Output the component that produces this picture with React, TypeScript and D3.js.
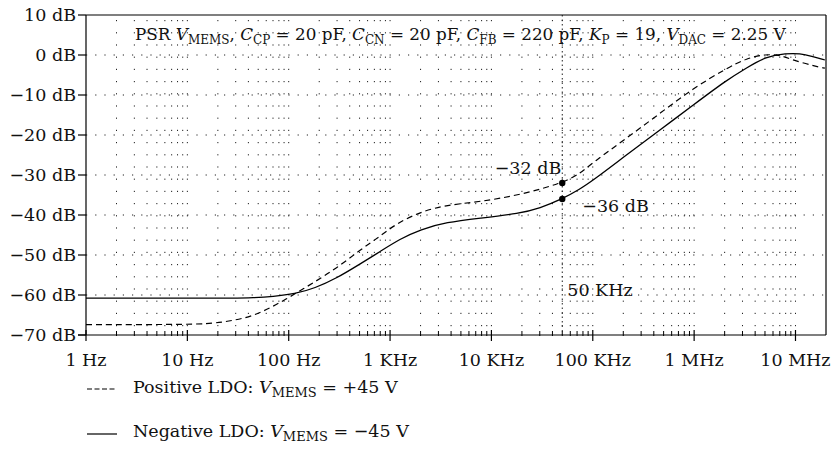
import React from "react";
import * as d3 from "d3";

// Negative LDO (solid)
const negFreq = [1, 10, 30, 44, 70, 115, 181, 297, 505, 790, 1250, 2000, 3600, 7700, 19000, 30000, 50000, 74000, 100000, 215000, 460000, 980000, 2.1e6, 3.3e6, 5.1e6, 8.1e6, 11e6, 14.9e6, 19.5e6];
const negDb = [-60.8, -60.8, -60.8, -60.7, -60.4, -59.75, -58.3, -55.8, -52.25, -49.2, -46.0, -43.6, -41.8, -40.8, -39.6, -38.3, -36, -33.6, -31.4, -25, -18.75, -12.5, -6.25, -3.2, -0.4, 0.4, 0.4, -0.4, -1.25];

// Positive LDO (dashed)
const posFreq = [1, 10, 18, 28, 44, 70, 115, 181, 297, 505, 790, 1160, 2000, 3600, 7700, 19000, 50000, 74000, 100000, 215000, 460000, 980000, 2.1e6, 3.3e6, 5.1e6, 7.0e6, 9.4e6, 14.9e6, 19.5e6];
const posDb = [-67.4, -67.4, -67.1, -66.4, -65.3, -62.9, -59.75, -56.7, -53.3, -48.75, -45.4, -42.1, -39.2, -37.5, -36.7, -35, -32, -29.75, -26.9, -20.8, -14.6, -8.3, -3.3, -0.8, 0.2, 0, -1.25, -2.7, -3.3];

const freqTicks = [1, 10, 100, 1e3, 1e4, 1e5, 1e6, 1e7];
const freqLabels = ["1 Hz", "10 Hz", "100 Hz", "1 KHz", "10 KHz", "100 KHz", "1 MHz", "10 MHz"];
const dbTicks = [10, 0, -10, -20, -30, -40, -50, -60, -70];

const markFreq = 50000;
const markDb = [-32, -36];

const FONT = "DejaVu Serif";
const FS = 17.5;

export default function App() {
  const x = d3.scaleLog().domain([1, 2e7]).range([86, 826]);
  const y = d3.scaleLinear().domain([-70, 10]).range([335, 15]);
  const x0 = 86, x1 = 826, y0 = 335, y1 = 15;

  const minor: number[] = [];
  for (let d = 0; d <= 7; d++) {
    for (let m = 2; m <= 9; m++) {
      const f = m * Math.pow(10, d);
      if (f < 2e7) minor.push(f);
    }
  }

  const line = d3
    .line<[number, number]>()
    .x((d) => x(d[0]))
    .y((d) => y(d[1]))
    .curve(d3.curveBasis);

  const negPath = line(negFreq.map((f, i) => [f, negDb[i]]))!;
  const posPath = line(posFreq.map((f, i) => [f, posDb[i]]))!;

  const fmt = (v: number) => `${v < 0 ? "\u2212" + Math.abs(v) : v} dB`;
  const sub = (s: string, fs = 12) => (
    <tspan fontSize={fs} dy={4}>{s}</tspan>
  );

  return (
    <svg width={832} height={449} fontFamily={FONT} style={{ position: "absolute", left: 0, top: 0, background: "#fff" }}>
      {/* grid */}
      <g stroke="#222" strokeWidth={1} fill="none">
        {[...minor, ...freqTicks.slice(1)].map((f) => (
          <line key={"v" + f} x1={x(f)} x2={x(f)} y1={y1 + 5} y2={y0} strokeDasharray="1.2,11" />
        ))}
        {dbTicks.slice(1, -1).map((v) => (
          <line key={"h" + v} x1={x0} x2={x1} y1={y(v)} y2={y(v)} strokeDasharray="1.2,8" />
        ))}
        <line x1={x(markFreq)} x2={x(markFreq)} y1={y1} y2={y0} strokeDasharray="1.5,3" />
      </g>

      {/* frame */}
      <g stroke="#000" strokeWidth={1.2} fill="none">
        <line x1={x0} x2={x1} y1={y1} y2={y1} />
        <line x1={x1} x2={x1} y1={y1} y2={y0} />
        <line x1={x0} x2={x0} y1={y1} y2={y0} />
        <line x1={x0 - 8} x2={x1} y1={y0} y2={y0} />
      </g>

      {/* y ticks */}
      {dbTicks.map((v) => (
        <g key={"yt" + v}>
          <line x1={x0 - 8} x2={x0} y1={y(v)} y2={y(v)} stroke="#000" strokeWidth={1.2} />
          <text x={x0 - 10} y={y(v)} dy="0.35em" textAnchor="end" fontSize={FS} fill="#111">
            {fmt(v)}
          </text>
        </g>
      ))}

      {/* x ticks */}
      {minor.map((f) => (
        <line key={"mt" + f} x1={x(f)} x2={x(f)} y1={y0 - 4} y2={y0 + 1} stroke="#000" strokeWidth={1} />
      ))}
      {freqTicks.map((f, i) => (
        <g key={"xt" + f}>
          <line x1={x(f)} x2={x(f)} y1={y0 - 5} y2={y0 + 6} stroke="#000" strokeWidth={1.2} />
          <text x={x(f)} y={366} textAnchor="middle" fontSize={FS} fill="#111">
            {freqLabels[i]}
          </text>
        </g>
      ))}

      {/* curves */}
      <path d={posPath} fill="none" stroke="#000" strokeWidth={1.2} strokeDasharray="6,4" />
      <path d={negPath} fill="none" stroke="#000" strokeWidth={1.3} />

      {/* markers */}
      {markDb.map((v) => (
        <circle key={"m" + v} cx={x(markFreq)} cy={y(v)} r={3.2} fill="#000" />
      ))}
      <text x={x(markFreq) - 1} y={y(-32) - 9} textAnchor="end" fontSize={FS} fill="#111">{fmt(-32)}</text>
      <text x={x(markFreq) + 20} y={y(-36) + 13} fontSize={FS} fill="#111">{fmt(-36)}</text>
      <text x={x(markFreq) + 5} y={296} fontSize={FS} fill="#111">50 KHz</text>

      {/* title */}
      <text x={135} y={40} fontSize={16.8} fill="#111">
        PSR <tspan fontStyle="italic">V</tspan>{sub("MEMS")}<tspan dy={-4}>, </tspan>
        <tspan fontStyle="italic">C</tspan>{sub("CP")}<tspan dy={-4}> = 20 pF, </tspan>
        <tspan fontStyle="italic">C</tspan>{sub("CN")}<tspan dy={-4}> = 20 pF, </tspan>
        <tspan fontStyle="italic">C</tspan>{sub("FB")}<tspan dy={-4}> = 220 pF, </tspan>
        <tspan fontStyle="italic">K</tspan>{sub("P")}<tspan dy={-4}> = 19, </tspan>
        <tspan fontStyle="italic">V</tspan>{sub("DAC")}<tspan dy={-4}> = 2.25 V</tspan>
      </text>

      {/* legend */}
      <line x1={87} x2={117} y1={389} y2={389} stroke="#000" strokeWidth={1.1} strokeDasharray="5,2.5" />
      <text x={133} y={393} fontSize={FS} fill="#111">
        Positive LDO: <tspan fontStyle="italic">V</tspan>{sub("MEMS", 13)}<tspan dy={-4}> = +45 V</tspan>
      </text>
      <line x1={87} x2={117} y1={434} y2={434} stroke="#000" strokeWidth={1.2} />
      <text x={133} y={437} fontSize={FS} fill="#111">
        Negative LDO: <tspan fontStyle="italic">V</tspan>{sub("MEMS", 13)}<tspan dy={-4}> = {"\u2212"}45 V</tspan>
      </text>
    </svg>
  );
}
